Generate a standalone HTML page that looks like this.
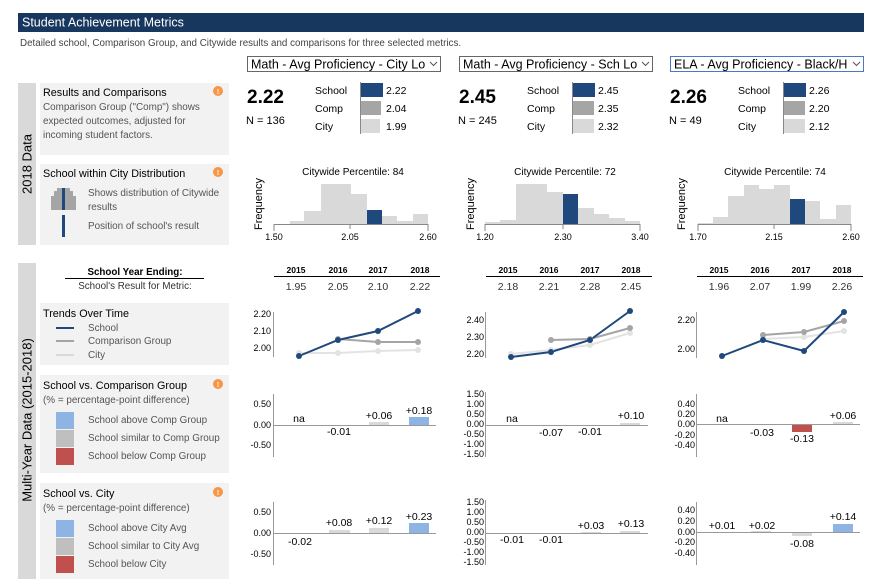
<!DOCTYPE html>
<html><head><meta charset="utf-8"><style>
body{margin:0;background:#fff;width:884px;height:579px;overflow:hidden}
svg text{font-family:"Liberation Sans",Arial,sans-serif}
</style></head><body>
<svg width="884" height="579" viewBox="0 0 884 579" xmlns="http://www.w3.org/2000/svg" font-family="Liberation Sans, Arial, sans-serif">
<rect x="18" y="13" width="846" height="19" fill="#17375e"/>
<text x="22" y="26.5" font-size="12.5" fill="#fff">Student Achievement Metrics</text>
<text x="20" y="46" font-size="9.8" fill="#444">Detailed school, Comparison Group, and Citywide results and comparisons for three selected metrics.</text>

<!-- dropdowns -->
<g font-size="12.5" fill="#000">
<rect x="247.5" y="56.5" width="193" height="15" fill="#fff" stroke="#666"/>
<text x="251" y="68.5">Math - Avg Proficiency - City Lo</text>
<rect x="459.5" y="56.5" width="193" height="15" fill="#fff" stroke="#666"/>
<text x="463" y="68.5">Math - Avg Proficiency - Sch Lo</text>
<rect x="670.5" y="56.5" width="193" height="15" fill="#fff" stroke="#4a78c2"/>
<text x="674" y="68.5">ELA - Avg Proficiency - Black/H</text>
</g>
<g fill="#fff"><rect x="428" y="57" width="12" height="14"/><rect x="640" y="57" width="12" height="14"/><rect x="851" y="57" width="12" height="14"/></g>
<g stroke="#555" fill="none" stroke-width="1"><path d="M430 62l3.5 3.5 3.5-3.5"/><path d="M642 62l3.5 3.5 3.5-3.5"/><path d="M853 62l3.5 3.5 3.5-3.5"/></g>

<!-- left bands -->
<rect x="18" y="83" width="18" height="162" fill="#d9d9d9"/>
<rect x="18" y="263" width="18" height="316" fill="#d9d9d9"/>
<text transform="translate(31.5,164) rotate(-90)" font-size="13" text-anchor="middle">2018 Data</text>
<text transform="translate(31.5,420) rotate(-90)" font-size="13" text-anchor="middle">Multi-Year Data (2015-2018)</text>

<g fill="#f2f2f2">
<rect x="40" y="83" width="189" height="72"/>
<rect x="40" y="164" width="189" height="81"/>
<rect x="40" y="303" width="189" height="62"/>
<rect x="40" y="375" width="189" height="98"/>
<rect x="40" y="483" width="189" height="96"/>
</g>
<g fill="#f79646"><circle cx="218" cy="91" r="5"/><circle cx="218" cy="172" r="5"/><circle cx="218" cy="384" r="5"/><circle cx="218" cy="492" r="5"/></g>
<g fill="#fff" font-size="7" font-weight="bold" text-anchor="middle"><text x="218" y="94">!</text><text x="218" y="175">!</text><text x="218" y="387">!</text><text x="218" y="495">!</text></g>

<g font-size="10.8" fill="#000">
<text x="43" y="96">Results and Comparisons</text>
<text x="43" y="177">School within City Distribution</text>
<text x="43" y="317">Trends Over Time</text>
<text x="43" y="389">School vs. Comparison Group</text>
<text x="43" y="497">School vs. City</text>
</g>
<g font-size="9.9" fill="#555">
<text x="43" y="110">Comparison Group ("Comp") shows</text>
<text x="43" y="124">expected outcomes, adjusted for</text>
<text x="43" y="138">incoming student factors.</text>
<text x="88" y="196">Shows distribution of Citywide</text>
<text x="88" y="210">results</text>
<text x="88" y="229">Position of school's result</text>
<text x="88" y="331">School</text>
<text x="88" y="344">Comparison Group</text>
<text x="88" y="358">City</text>
<text x="43" y="403">(% = percentage-point difference)</text>
<text x="88" y="423">School above Comp Group</text>
<text x="88" y="441">School similar to Comp Group</text>
<text x="88" y="459">School below Comp Group</text>
<text x="43" y="511">(% = percentage-point difference)</text>
<text x="88" y="531">School above City Avg</text>
<text x="88" y="549">School similar to City Avg</text>
<text x="88" y="567">School below City</text>
</g>
<!-- mini dist icon -->
<g fill="#a5a5a5"><rect x="51" y="196" width="25" height="14"/><rect x="54" y="191" width="19" height="6"/><rect x="57" y="188" width="13" height="4"/></g>
<rect x="62" y="188" width="3" height="22" fill="#1f497d"/>
<rect x="62" y="215" width="3" height="22" fill="#1f497d"/>
<g stroke-width="2"><line x1="56" y1="328" x2="74" y2="328" stroke="#1f497d"/><line x1="56" y1="341" x2="74" y2="341" stroke="#a5a5a5"/><line x1="56" y1="355" x2="74" y2="355" stroke="#d9d9d9"/></g>
<rect x="56" y="412" width="18" height="17" fill="#8eb4e3"/><rect x="56" y="430" width="18" height="17" fill="#bfbfbf"/><rect x="56" y="448" width="18" height="17" fill="#c0504d"/>
<rect x="56" y="520" width="18" height="17" fill="#8eb4e3"/><rect x="56" y="538" width="18" height="17" fill="#bfbfbf"/><rect x="56" y="556" width="18" height="17" fill="#c0504d"/>

<text x="135" y="275" font-size="9.8" font-weight="bold" text-anchor="middle">School Year Ending:</text>
<line x1="65" y1="278.5" x2="204" y2="278.5" stroke="#000"/>
<text x="135" y="289" font-size="9.8" fill="#333" text-anchor="middle">School's Result for Metric:</text>

<!-- Results column blocks -->
<g font-size="19" font-weight="bold"><text x="247" y="103">2.22</text><text x="459" y="103">2.45</text><text x="670" y="103">2.26</text></g>
<g font-size="11"><text x="246" y="124">N = 136</text><text x="458" y="124">N = 245</text><text x="669" y="124">N = 49</text></g>
<g font-size="10.5">
<text x="315" y="94">School</text><text x="315" y="112">Comp</text><text x="315" y="130">City</text>
<text x="386" y="94">2.22</text><text x="386" y="112">2.04</text><text x="386" y="130">1.99</text>
<text x="527" y="94">School</text><text x="527" y="112">Comp</text><text x="527" y="130">City</text>
<text x="598" y="94">2.45</text><text x="598" y="112">2.35</text><text x="598" y="130">2.32</text>
<text x="738" y="94">School</text><text x="738" y="112">Comp</text><text x="738" y="130">City</text>
<text x="809" y="94">2.26</text><text x="809" y="112">2.20</text><text x="809" y="130">2.12</text>
</g>
<g>
<rect x="361" y="83" width="22" height="14" fill="#1f497d"/><rect x="361" y="101" width="20" height="14" fill="#a5a5a5"/><rect x="361" y="119" width="19" height="14" fill="#d9d9d9"/>
<rect x="573" y="83" width="22" height="14" fill="#1f497d"/><rect x="573" y="101" width="21" height="14" fill="#a5a5a5"/><rect x="573" y="119" width="21" height="14" fill="#d9d9d9"/>
<rect x="784" y="83" width="22" height="14" fill="#1f497d"/><rect x="784" y="101" width="21" height="14" fill="#a5a5a5"/><rect x="784" y="119" width="21" height="14" fill="#d9d9d9"/>
<g stroke="#888"><line x1="360.5" y1="82" x2="360.5" y2="134"/><line x1="572.5" y1="82" x2="572.5" y2="134"/><line x1="783.5" y1="82" x2="783.5" y2="134"/></g>
</g>

<!-- Histograms -->
<g font-size="10" text-anchor="middle">
<text x="353" y="175">Citywide Percentile: 84</text>
<text x="565" y="175">Citywide Percentile: 72</text>
<text x="775" y="175">Citywide Percentile: 74</text>
</g>
<g font-size="9" text-anchor="middle">
<text x="274" y="240">1.50</text><text x="350" y="240">2.05</text><text x="428" y="240">2.60</text>
<text x="485" y="240">1.20</text><text x="563" y="240">2.30</text><text x="640" y="240">3.40</text>
<text x="698" y="240">1.70</text><text x="774" y="240">2.15</text><text x="851" y="240">2.60</text>
</g>
<g font-size="11" text-anchor="middle">
<text transform="translate(262,204) rotate(-90)">Frequency</text>
<text transform="translate(474,204) rotate(-90)">Frequency</text>
<text transform="translate(685,204) rotate(-90)">Frequency</text>
</g>
<g fill="#d9d9d9">
<rect x="290" y="221" width="14" height="3"/><rect x="304" y="211" width="17" height="13"/><rect x="321" y="184" width="30" height="40"/><rect x="351" y="194" width="16" height="30"/><rect x="382" y="216" width="15" height="8"/><rect x="397" y="221" width="16" height="3"/><rect x="413" y="214" width="15" height="10"/>
<rect x="485" y="222" width="15" height="2"/><rect x="500" y="220" width="16" height="4"/><rect x="516" y="184" width="31" height="40"/><rect x="547" y="192" width="16" height="32"/><rect x="578" y="208" width="16" height="16"/><rect x="594" y="214" width="15" height="10"/><rect x="609" y="218" width="16" height="6"/><rect x="625" y="221" width="15" height="3"/>
<rect x="698" y="223" width="15" height="1"/><rect x="713" y="217" width="15" height="7"/><rect x="728" y="196" width="16" height="28"/><rect x="744" y="185" width="15" height="39"/><rect x="759" y="189" width="15" height="35"/><rect x="774" y="185" width="16" height="39"/><rect x="805" y="201" width="15" height="23"/><rect x="820" y="219" width="16" height="5"/><rect x="836" y="205" width="15" height="19"/>
</g>
<g fill="#1f497d"><rect x="367" y="210" width="15" height="14"/><rect x="563" y="194" width="15" height="30"/><rect x="790" y="199" width="15" height="25"/></g>
<g stroke="#888" fill="none"><path d="M274 231V224.5H428V231"/><path d="M350 224v5"/><path d="M485 231V224.5H640V231"/><path d="M563 224v5"/><path d="M698 231V224.5H851V231"/><path d="M774 224v5"/></g>

<!-- year tables -->
<g font-size="8.5" font-weight="bold" text-anchor="middle">
<text x="296" y="273">2015</text><text x="338" y="273">2016</text><text x="378" y="273">2017</text><text x="420" y="273">2018</text>
<text x="508" y="273">2015</text><text x="549" y="273">2016</text><text x="590" y="273">2017</text><text x="631" y="273">2018</text>
<text x="719" y="273">2015</text><text x="760" y="273">2016</text><text x="801" y="273">2017</text><text x="842" y="273">2018</text>
</g>
<g stroke="#000"><line x1="274" y1="276.5" x2="440" y2="276.5"/><line x1="486" y1="276.5" x2="652" y2="276.5"/><line x1="697" y1="276.5" x2="863" y2="276.5"/></g>
<g font-size="10.5" fill="#333" text-anchor="middle">
<text x="296" y="290">1.95</text><text x="338" y="290">2.05</text><text x="378" y="290">2.10</text><text x="420" y="290">2.22</text>
<text x="508" y="290">2.18</text><text x="549" y="290">2.21</text><text x="590" y="290">2.28</text><text x="631" y="290">2.45</text>
<text x="719" y="290">1.96</text><text x="760" y="290">2.07</text><text x="801" y="290">1.99</text><text x="842" y="290">2.26</text>
</g>

<!-- line charts -->
<g font-size="9" text-anchor="end">
<text x="271" y="317">2.20</text><text x="271" y="334">2.10</text><text x="271" y="351">2.00</text>
<text x="484" y="323">2.40</text><text x="484" y="340">2.30</text><text x="484" y="357">2.20</text>
<text x="695" y="323">2.20</text><text x="695" y="352">2.00</text>
</g>
<g stroke="#999"><line x1="273.5" y1="312" x2="273.5" y2="357"/><line x1="485.5" y1="312" x2="485.5" y2="358"/><line x1="696.5" y1="312" x2="696.5" y2="358"/></g>
<g fill="none" stroke-width="2">
<polyline points="299,353 338,353 378,351 418,350" stroke="#e3e3e3"/>
<polyline points="338,339 378,342 418,342" stroke="#a5a5a5"/>
<polyline points="299,356 338,340 378,331 418,311" stroke="#1f497d"/>
<polyline points="511,354 551,350 590,345 630,333" stroke="#e3e3e3"/>
<polyline points="551,340 590,339 630,328" stroke="#a5a5a5"/>
<polyline points="511,357 551,352 590,340 630,311" stroke="#1f497d"/>
<polyline points="763,339 804,337 844,331" stroke="#e3e3e3"/>
<polyline points="763,335 804,332 844,321" stroke="#a5a5a5"/>
<polyline points="722,356 763,340 804,351 844,312" stroke="#1f497d"/>
</g>
<g fill="#e3e3e3"><circle cx="299" cy="353" r="3"/><circle cx="338" cy="353" r="3"/><circle cx="378" cy="351" r="3"/><circle cx="418" cy="350" r="3"/><circle cx="511" cy="354" r="3"/><circle cx="551" cy="350" r="3"/><circle cx="590" cy="345" r="3"/><circle cx="630" cy="333" r="3"/><circle cx="763" cy="339" r="3"/><circle cx="804" cy="337" r="3"/><circle cx="844" cy="331" r="3"/></g>
<g fill="#a5a5a5"><circle cx="338" cy="339" r="3"/><circle cx="378" cy="342" r="3"/><circle cx="418" cy="342" r="3"/><circle cx="551" cy="340" r="3"/><circle cx="590" cy="339" r="3"/><circle cx="630" cy="328" r="3"/><circle cx="763" cy="335" r="3"/><circle cx="804" cy="332" r="3"/><circle cx="844" cy="321" r="3"/></g>
<g fill="#1f497d"><circle cx="299" cy="356" r="3"/><circle cx="338" cy="340" r="3"/><circle cx="378" cy="331" r="3"/><circle cx="418" cy="311" r="3"/><circle cx="511" cy="357" r="3"/><circle cx="551" cy="352" r="3"/><circle cx="590" cy="340" r="3"/><circle cx="630" cy="311" r="3"/><circle cx="722" cy="356" r="3"/><circle cx="763" cy="340" r="3"/><circle cx="804" cy="351" r="3"/><circle cx="844" cy="312" r="3"/></g>

<!-- diff bar charts axes -->
<g stroke="#999">
<line x1="273.5" y1="394" x2="273.5" y2="457"/><line x1="273" y1="425.5" x2="436" y2="425.5"/>
<line x1="485.5" y1="392" x2="485.5" y2="457"/><line x1="485" y1="425.5" x2="648" y2="425.5"/>
<line x1="696.5" y1="394" x2="696.5" y2="457"/><line x1="696" y1="424.5" x2="860" y2="424.5"/>
<line x1="273.5" y1="502" x2="273.5" y2="565"/><line x1="273" y1="533.5" x2="436" y2="533.5"/>
<line x1="485.5" y1="500" x2="485.5" y2="565"/><line x1="485" y1="533.5" x2="648" y2="533.5"/>
<line x1="696.5" y1="502" x2="696.5" y2="565"/><line x1="696" y1="532.5" x2="860" y2="532.5"/>
</g>
<g font-size="9" text-anchor="end">
<text x="271" y="407">0.50</text><text x="271" y="428">0.00</text><text x="271" y="448">-0.50</text>
<text x="271" y="515">0.50</text><text x="271" y="536">0.00</text><text x="271" y="557">-0.50</text>
<text x="484" y="397">1.50</text><text x="484" y="407">1.00</text><text x="484" y="417">0.50</text><text x="484" y="427">0.00</text><text x="484" y="437">-0.50</text><text x="484" y="447">-1.00</text><text x="484" y="457">-1.50</text>
<text x="484" y="505">1.50</text><text x="484" y="515">1.00</text><text x="484" y="525">0.50</text><text x="484" y="535">0.00</text><text x="484" y="545">-0.50</text><text x="484" y="555">-1.00</text><text x="484" y="565">-1.50</text>
<text x="695" y="407">0.40</text><text x="695" y="417">0.20</text><text x="695" y="427">0.00</text><text x="695" y="438">-0.20</text><text x="695" y="448">-0.40</text>
<text x="695" y="513">0.40</text><text x="695" y="524">0.20</text><text x="695" y="535">0.00</text><text x="695" y="545">-0.20</text><text x="695" y="556">-0.40</text>
</g>
<!-- diff bars -->
<rect x="369" y="422" width="20" height="3" fill="#d9d9d9"/><rect x="409" y="417" width="20" height="8" fill="#8eb4e3"/>
<rect x="620" y="423" width="20" height="2" fill="#d9d9d9"/>
<rect x="792" y="425" width="20" height="7" fill="#c0504d"/><rect x="833" y="422" width="20" height="2" fill="#d9d9d9"/>
<rect x="329" y="530" width="21" height="3" fill="#d9d9d9"/><rect x="369" y="528" width="20" height="5" fill="#d9d9d9"/><rect x="409" y="523" width="20" height="10" fill="#8eb4e3"/>
<rect x="581" y="532" width="20" height="1" fill="#d9d9d9"/><rect x="620" y="531" width="20" height="2" fill="#d9d9d9"/>
<rect x="751" y="531" width="20" height="1" fill="#d9d9d9"/><rect x="792" y="533" width="20" height="3" fill="#d9d9d9"/><rect x="833" y="524" width="20" height="8" fill="#8eb4e3"/>
<g font-size="10.5" text-anchor="middle">
<text x="299" y="422">na</text><text x="339" y="435">-0.01</text><text x="379" y="419">+0.06</text><text x="419" y="414">+0.18</text>
<text x="512" y="422">na</text><text x="551" y="436">-0.07</text><text x="590" y="435">-0.01</text><text x="631" y="419">+0.10</text>
<text x="722" y="422">na</text><text x="762" y="436">-0.03</text><text x="802" y="442">-0.13</text><text x="843" y="419">+0.06</text>
<text x="300" y="545">-0.02</text><text x="339" y="526">+0.08</text><text x="379" y="524">+0.12</text><text x="419" y="520">+0.23</text>
<text x="512" y="543">-0.01</text><text x="551" y="543">-0.01</text><text x="591" y="529">+0.03</text><text x="631" y="527">+0.13</text>
<text x="722" y="529">+0.01</text><text x="762" y="529">+0.02</text><text x="802" y="547">-0.08</text><text x="843" y="520">+0.14</text>
</g>
</svg>
</body></html>
